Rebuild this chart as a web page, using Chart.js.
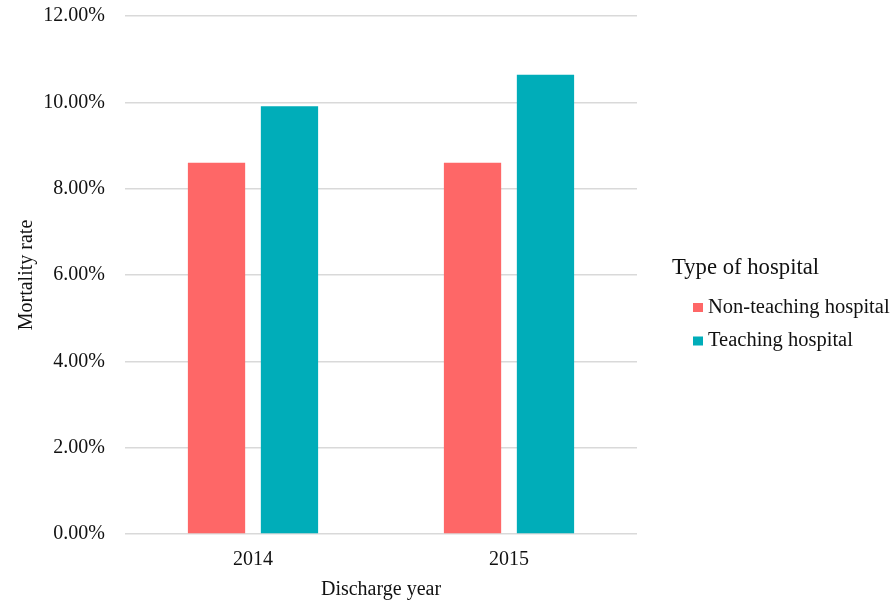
<!DOCTYPE html>
<html>
<head>
<meta charset="utf-8">
<script src="https://cdn.jsdelivr.net/npm/chart.js@4/dist/chart.umd.min.js"></script>
<style>
  html, body { margin: 0; padding: 0; background: #ffffff; }
  #wrap { width: 895px; height: 602px; position: relative; }
</style>
</head>
<body>
<div id="wrap"><canvas id="c" width="895" height="602"></canvas></div>
<script>
// ---- data ----
const categories = ["2014", "2015"];
const seriesNames = ["Non-teaching hospital", "Teaching hospital"];
const nonTeaching = [8.60, 8.60];   // mortality rate, %
const teaching = [9.91, 10.64];     // mortality rate, %
const yTicks = [0, 2, 4, 6, 8, 10, 12];
const legendTitle = "Type of hospital";
const xTitle = "Discharge year";
const yTitle = "Mortality rate";

const colors = ["#FE6767", "#00ADB9"];
const FONT = "'Liberation Serif', 'Times New Roman', serif";

const legendPlugin = {
  id: 'customLegend',
  afterDraw(chart) {
    const ctx = chart.ctx;
    ctx.save();
    ctx.fillStyle = '#111';
    ctx.textBaseline = 'middle';
    ctx.textAlign = 'left';
    ctx.font = "22.7px " + FONT;
    ctx.fillText(legendTitle, 672, 268);
    ctx.font = "20.5px " + FONT;
    chart.data.datasets.forEach((ds, i) => {
      const y = 307.5 + i * 33.5;
      ctx.fillStyle = ds.backgroundColor;
      ctx.fillRect(693, y - 4.5, 10, 9);
      ctx.fillStyle = '#111';
      ctx.fillText(ds.label, 708, y);
    });
    ctx.restore();
  }
};

new Chart(document.getElementById('c'), {
  type: 'bar',
  data: {
    labels: categories,
    datasets: [
      { label: seriesNames[0], data: nonTeaching, backgroundColor: colors[0] },
      { label: seriesNames[1], data: teaching, backgroundColor: colors[1] }
    ]
  },
  options: {
    responsive: false,
    animation: false,
    devicePixelRatio: 1,
    categoryPercentage: 0.57,
    barPercentage: 0.785,
    layout: { padding: { top: 16, right: 258, left: 0, bottom: 0 } },
    plugins: {
      legend: { display: false },
      tooltip: { enabled: false }
    },
    scales: {
      x: {
        grid: { display: false, drawTicks: false },
        border: { display: false },
        ticks: { color: '#111', font: { family: FONT, size: 20 }, padding: 14 },
        title: { display: true, text: xTitle, color: '#111', font: { family: FONT, size: 20 }, padding: { top: 0, bottom: 0 } },
        afterFit(scale) { scale.height = 68; scale.paddingLeft = 0; scale.paddingRight = 0; }
      },
      y: {
        min: 0, max: 12,
        afterBuildTicks(scale) { scale.ticks = yTicks.map(v => ({ value: v })); },
        grid: { color: '#d9d9d9', lineWidth: 1.5, drawTicks: false },
        border: { display: false },
        ticks: {
          color: '#111', font: { family: FONT, size: 20 }, padding: 20,
          callback: v => v.toFixed(2) + '%'
        },
        title: { display: true, text: yTitle, color: '#111', font: { family: FONT, size: 20 }, padding: { top: 15, bottom: 0 } },
        afterFit(scale) { scale.width = 125; scale.paddingTop = 0; scale.paddingBottom = 0; }
      }
    }
  },
  plugins: [legendPlugin]
});
</script>
</body>
</html>
